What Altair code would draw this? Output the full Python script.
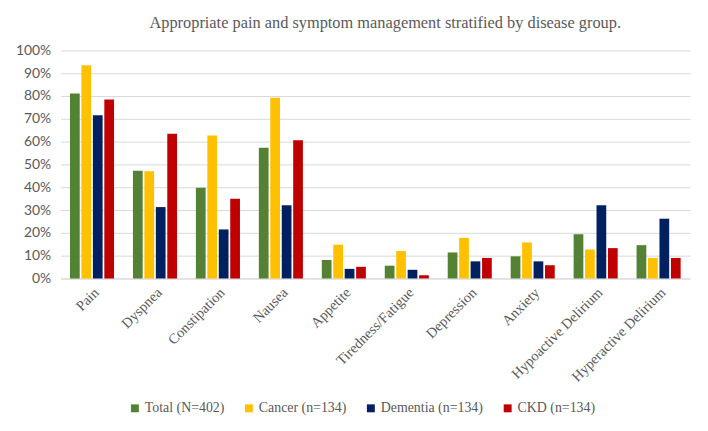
import altair as alt
import pandas as pd

symptoms = ["Pain", "Dyspnea", "Constipation", "Nausea", "Appetite",
            "Tiredness/Fatigue", "Depression", "Anxiety",
            "Hypoactive Delirium", "Hyperactive Delirium"]
groups = ["Total (N=402)", "Cancer (n=134)", "Dementia (n=134)", "CKD (n=134)"]
total = [81.1, 47.2, 39.8, 57.3, 8.1, 5.6, 11.4, 9.7, 19.4, 14.6]
cancer = [93.5, 47.0, 62.7, 79.2, 14.8, 12.0, 17.8, 15.8, 12.7, 9.0]
dementia = [71.6, 31.3, 21.5, 32.1, 4.2, 3.8, 7.5, 7.5, 32.1, 26.2]
ckd = [78.5, 63.5, 34.9, 60.6, 5.1, 1.4, 9.0, 5.8, 13.3, 9.0]
colors = ["#548235", "#FFC000", "#002060", "#C00000"]

rows = []
for g, series in zip(groups, [total, cancer, dementia, ckd]):
    for s, v in zip(symptoms, series):
        rows.append({"symptom": s, "group": g, "value": v / 100})
df = pd.DataFrame(rows)

serif = "Liberation Serif"
sans = "Lato"

chart = alt.Chart(df).mark_bar().encode(
    x=alt.X("symptom:N", sort=symptoms,
            scale=alt.Scale(paddingInner=0.3, paddingOuter=0.15),
            axis=alt.Axis(title=None, labelAngle=-45, labelFont=serif, labelFontSize=14.5,
                          labelColor="#595959", ticks=False, domainColor="#d9d9d9",
                          labelPadding=7)),
    xOffset=alt.XOffset("group:N", sort=groups, scale=alt.Scale(paddingInner=0.15)),
    y=alt.Y("value:Q", scale=alt.Scale(domain=[0, 1]),
            axis=alt.Axis(title=None, format=".0%",
                          values=[i / 10 for i in range(11)],
                          domain=False, ticks=False, labelFont=sans, labelFontSize=14,
                          labelColor="#595959", gridColor="#d9d9d9", labelPadding=10)),
    color=alt.Color("group:N", sort=groups,
                    scale=alt.Scale(domain=groups, range=colors),
                    legend=alt.Legend(title=None, orient="none", direction="horizontal",
                                      legendX=68, legendY=354,
                                      symbolType="square", symbolSize=64,
                                      labelFont=serif, labelFontSize=14,
                                      labelColor="#595959", columnPadding=17,
                                      labelOffset=3, symbolStrokeWidth=0)),
).properties(
    width=635, height=230,
    title=alt.TitleParams("Appropriate pain and symptom management stratified by disease group.",
                          font=serif, fontSize=16.5, fontWeight="normal", color="#595959",
                          offset=12, dx=10),
    padding={"left": 7, "top": 5, "right": 10, "bottom": 5},
).configure_view(stroke=None)

chart.save("out.html", embed_options={"renderer": "svg", "actions": False})
